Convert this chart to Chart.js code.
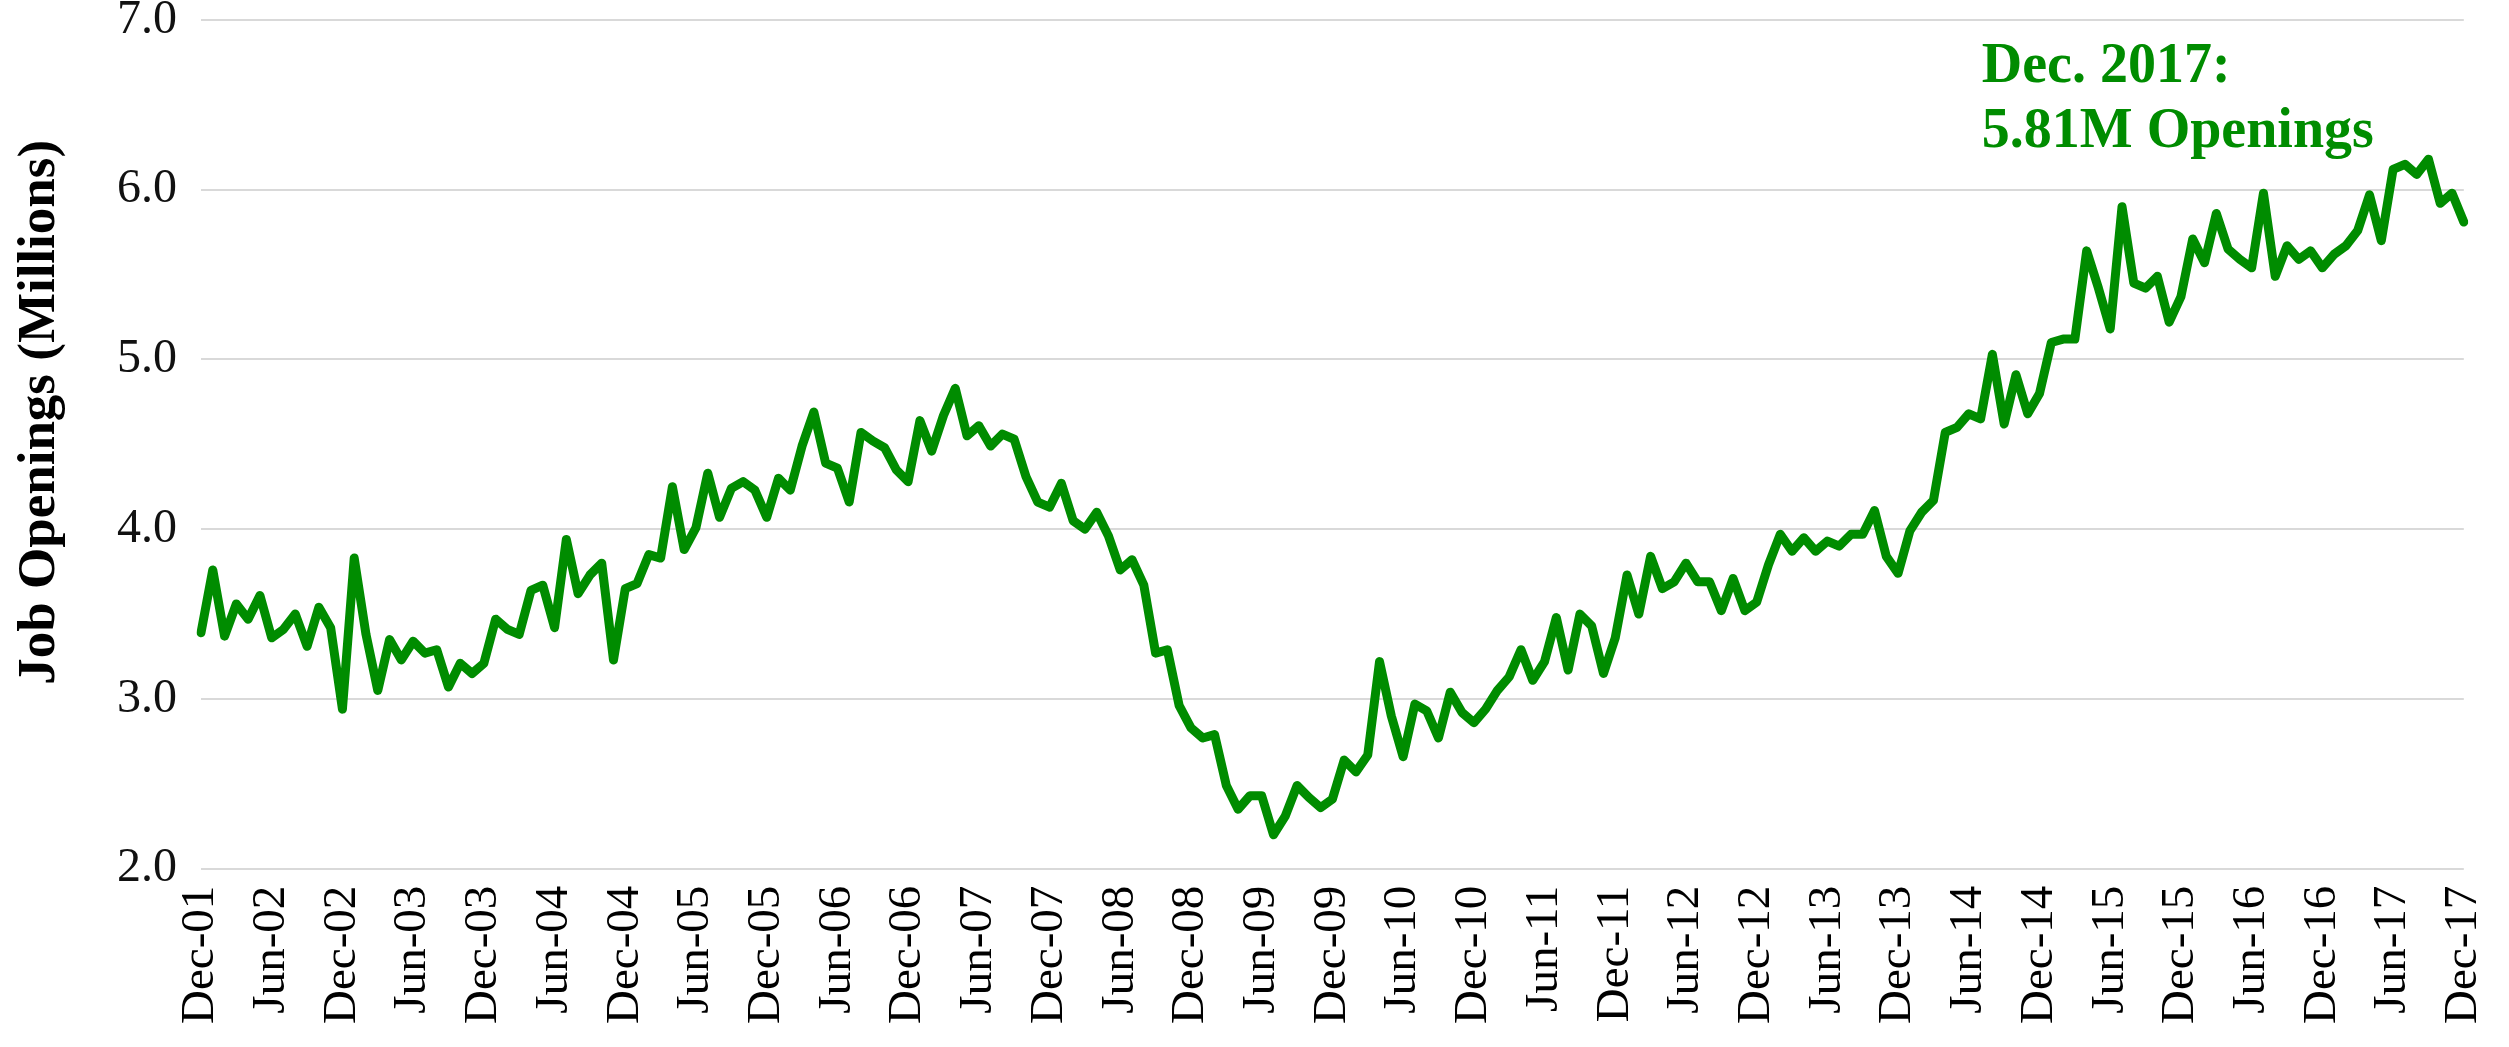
<!DOCTYPE html>
<html>
<head>
<meta charset="utf-8">
<title>Job Openings</title>
<script src="https://cdn.jsdelivr.net/npm/chart.js@4"></script>
<style>
  body { margin: 0; background: #fff; }
  #wrap { width: 2509px; height: 1047px; position: relative; }
</style>
</head>
<body>
<div id="wrap"><canvas id="jobs-chart"></canvas></div>
<script>
// month names used to build the category labels (Dec-01 .. Dec-17)
const monthNames = ['Jan', 'Feb', 'Mar', 'Apr', 'May', 'Jun', 'Jul', 'Aug', 'Sep', 'Oct', 'Nov', 'Dec'];
const categories = [];
for (let i = 0; i < 193; i++) {
  const m = (11 + i) % 12;
  const yr = 1 + Math.floor((11 + i) / 12);
  categories.push(monthNames[m] + '-' + String(yr).padStart(2, '0'));
}

// job openings, millions, monthly
const openings = [
  3.39, 3.76, 3.37, 3.56, 3.47, 3.61, 3.36, 3.41, 3.50, 3.31, 3.54, 3.42,
  2.94, 3.83, 3.38, 3.05, 3.35, 3.23, 3.34, 3.27, 3.29, 3.07, 3.21, 3.15,
  3.21, 3.47, 3.41, 3.38, 3.64, 3.67, 3.42, 3.94, 3.62, 3.73, 3.80, 3.23,
  3.65, 3.68, 3.85, 3.83, 4.25, 3.88, 4.01, 4.33, 4.07, 4.24, 4.28, 4.23,
  4.07, 4.30, 4.23, 4.49, 4.69, 4.39, 4.36, 4.16, 4.57, 4.52, 4.48, 4.35,
  4.28, 4.64, 4.46, 4.67, 4.83, 4.55, 4.61, 4.49, 4.56, 4.53, 4.31, 4.16,
  4.13, 4.27, 4.05, 4.00, 4.10, 3.96, 3.76, 3.82, 3.67, 3.27, 3.29, 2.96,
  2.83, 2.77, 2.79, 2.49, 2.35, 2.43, 2.43, 2.20, 2.31, 2.49, 2.42, 2.36,
  2.41, 2.64, 2.57, 2.67, 3.22, 2.90, 2.66, 2.97, 2.93, 2.77, 3.04, 2.92,
  2.86, 2.94, 3.05, 3.13, 3.29, 3.11, 3.22, 3.48, 3.17, 3.50, 3.43, 3.15,
  3.36, 3.73, 3.50, 3.84, 3.65, 3.69, 3.80, 3.69, 3.69, 3.52, 3.71, 3.52,
  3.57, 3.79, 3.97, 3.87, 3.95, 3.87, 3.93, 3.90, 3.97, 3.97, 4.11, 3.84,
  3.74, 3.99, 4.10, 4.17, 4.57, 4.60, 4.68, 4.65, 5.03, 4.62, 4.91, 4.68,
  4.80, 5.10, 5.12, 5.12, 5.64, 5.42, 5.18, 5.90, 5.45, 5.42, 5.49, 5.22,
  5.37, 5.71, 5.57, 5.86, 5.65, 5.59, 5.54, 5.98, 5.49, 5.67, 5.59, 5.64,
  5.54, 5.62, 5.67, 5.76, 5.97, 5.70, 6.12, 6.15, 6.09, 6.18, 5.92, 5.98,
  5.81
];

// y axis ticks
const yTicks = [2, 3, 4, 5, 6, 7];
// axis title and annotation text
const yTitle = 'Job Openings (Millions)';
const noteLines = ['Dec. 2017:', '5.81M Openings'];

const green = '#008c00';
const serif = '"Liberation Serif", "DejaVu Serif", serif';

// y title (a bit above centre, like the original) + green note top right
const textPlugin = {
  id: 'texts',
  afterDraw(chart) {
    const { ctx, chartArea } = chart;
    ctx.save();
    ctx.fillStyle = '#000';
    ctx.font = 'bold 53px ' + serif;
    ctx.translate(40, (chartArea.top + chartArea.bottom) / 2 - 32);
    ctx.rotate(-Math.PI / 2);
    ctx.textAlign = 'center';
    ctx.textBaseline = 'middle';
    ctx.fillText(yTitle, 0, 0);
    ctx.restore();

    ctx.save();
    ctx.fillStyle = green;
    ctx.font = 'bold 56px ' + serif;
    ctx.textAlign = 'left';
    ctx.textBaseline = 'alphabetic';
    noteLines.forEach((t, i) => {
      ctx.fillText(t, chartArea.right - 482, chartArea.top + 62 + i * 65);
    });
    ctx.restore();
  }
};

new Chart(document.getElementById('jobs-chart'), {
  type: 'line',
  data: {
    labels: categories,
    datasets: [{
      data: openings,
      borderColor: green,
      borderWidth: 9,
      pointRadius: 0,
      tension: 0,
      borderJoinStyle: 'round',
      borderCapStyle: 'round',
      fill: false
    }]
  },
  options: {
    responsive: true,
    maintainAspectRatio: false,
    animation: false,
    layout: { padding: { top: 0, right: 9, bottom: 6, left: 93 } },
    plugins: {
      legend: { display: false },
      tooltip: { enabled: false }
    },
    scales: {
      x: {
        grid: { display: false, drawTicks: false },
        border: { display: false },
        ticks: {
          autoSkip: false,
          maxRotation: 90,
          minRotation: 90,
          padding: 17,
          color: '#000',
          font: { family: serif, size: 47, lineHeight: 0.6 },
          callback: (v, i) => (i % 6 === 0 ? categories[i] : '')
        }
      },
      y: {
        min: 2,
        max: 7,
        afterBuildTicks: axis => { axis.ticks = yTicks.map(v => ({ value: v })); },
        afterFit: axis => { axis.paddingTop = 20; },
        grid: { color: '#d9d9d9', lineWidth: 2, drawTicks: false },
        border: { display: false },
        ticks: {
          padding: 24,
          color: '#111',
          font: { family: serif, size: 48, lineHeight: 0.1 },
          callback: v => v.toFixed(1)
        }
      }
    }
  },
  plugins: [textPlugin]
});
</script>
</body>
</html>
